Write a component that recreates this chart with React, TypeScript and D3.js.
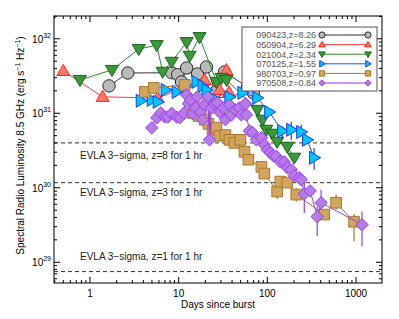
import React from 'react';
import * as d3 from 'd3';

const W = 399;
const H = 319;

// 090423, z=8.26
const days090423 = [1.64, 2.67, 8.34, 9.75, 10.8, 12.3, 16.3, 20.6, 26.0, 32.9, 59.6, 69.6];
const lum090423 = [2.33e31, 3.47e31, 3.5e31, 3.3e31, 2.63e31, 4.05e31, 3.37e31, 4.18e31, 1.93e31, 3.58e31, 2.26e31, 1.88e31];
// 050904, z=6.29
const days050904 = [0.5, 1.39, 5.8, 19.6, 28.9, 34.6, 37.0];
const lum050904 = [3.7e31, 1.66e31, 1.6e31, 2.8e31, 2.05e31, 3.8e31, 1.9e31];
// 021004, z=2.34
const days021004 = [0.77, 1.77, 3.55, 5.66, 6.6, 8.34, 12.3, 13.3, 17.2, 26.7, 30.4, 34.6, 77.2, 87.9, 97.4, 114, 129, 168, 201];
const lum021004 = [2.8e31, 3.81e31, 7.28e31, 8.2e31, 3.6e31, 4.9e31, 9.0e31, 5.9e31, 1.05e32, 2.63e31, 2.98e31, 2.8e31, 1.11e31, 8.17e30, 6.0e30, 5.3e30, 4.14e30, 3.55e30, 2.53e30];
// 070125, z=1.55
const days070125 = [3.74, 4.97, 5.81, 7.14, 9.5, 11.7, 15.9, 18.6, 20.6, 24.1, 37.4, 52.4, 77.2, 105, 147, 186, 241, 281, 337];
const lum070125 = [1.47e31, 1.51e31, 1.42e31, 2.06e31, 1.93e31, 2.25e31, 2.63e31, 2.33e31, 2.06e31, 1.61e31, 1.65e31, 1.88e31, 1.61e31, 1.04e31, 5.8e30, 6.0e30, 5.6e30, 4.4e30, 2.53e30];
// 980703, z=0.97
const days980703 = [4.15, 5.24, 11.7, 14.4, 16.8, 19.6, 21.7, 24.1, 26.7, 28.9, 33.7, 37.4, 42.6, 49.7, 55.2, 61.2, 85.7, 92.5, 129, 140, 168, 212, 437, 596, 950];
const lum980703 = [1.93e31, 2.19e31, 2.4e31, 1.01e31, 9.2e30, 8.2e30, 7.2e30, 6.0e30, 6.4e30, 4.98e30, 5.1e30, 4.4e30, 4.0e30, 4.4e30, 3.04e30, 2.38e30, 1.91e30, 1.55e30, 8.9e29, 1.21e30, 1.17e30, 8.1e29, 4.37e29, 6.3e29, 3.5e29];
// 970508, z=0.84
const days970508 = [4.97, 5.66, 6.28, 6.96, 7.52, 8.34, 9.5, 10.3, 11.4, 12.3, 12.9, 13.6, 14.4, 15.5, 16.3, 17.7, 18.6, 19.6, 21.2, 22.3, 23.5, 25.4, 27.4, 28.9, 32.0, 33.7, 37.4, 39.4, 43.7, 48.4, 51.0, 56.6, 58.1, 62.8, 67.8, 75.2, 85.7, 92.5, 100, 108, 117, 126, 140, 155, 168, 186, 201, 229, 241, 261, 304, 365, 404, 1167];
const lum970508 = [6.38e30, 8.67e30, 1.01e31, 8.95e30, 8.9e30, 1.0e31, 8.9e30, 8.7e30, 1.0e31, 1.76e31, 1.34e31, 1.51e31, 9.8e30, 1.18e31, 1.66e31, 1.04e31, 8.2e30, 1.3e31, 1.66e31, 4.4e30, 1.18e31, 1.34e31, 1.38e31, 1.04e31, 1.18e31, 8.2e30, 1.3e31, 9.5e30, 1.11e31, 1.18e31, 9.5e30, 1.34e31, 9.5e30, 5.8e30, 5.5e30, 4.4e30, 4.7e30, 3.78e30, 3.24e30, 2.95e30, 2.69e30, 2.63e30, 2.23e30, 2.23e30, 1.86e30, 1.75e30, 1.45e30, 1.37e30, 1.28e30, 8.3e29, 9.1e29, 4.1e29, 6.3e29, 3.2e29];

// error bars: [day, low, high]
const err090423 = [[2.67, 2.9e31, 4.1e31], [10.8, 2.2e31, 3.1e31], [20.6, 3.5e31, 4.9e31], [69.6, 1.5e31, 2.3e31]];
const err070125 = [[147, 4.4e30, 6.6e30], [186, 4.4e30, 7.7e30], [241, 4.9e30, 7.0e30], [337, 1.75e30, 3.4e30]];
const err980703 = [[129, 7.0e29, 1.1e30], [212, 6.5e29, 1.0e30], [596, 5.1e29, 8.1e29], [950, 1.9e29, 4.4e29]];
const err970508 = [[22.3, 3.8e30, 1.1e31], [261, 4.6e29, 1.37e30], [365, 2.24e29, 5.6e29], [404, 5.1e29, 9.4e29], [1167, 1.64e29, 4.8e29]];

// sensitivity lines
const evlaLevels = [4.0e30, 1.17e30, 7.5e28];
const evlaLabels = ['EVLA 3\u2212sigma, z=8 for 1 hr', 'EVLA 3\u2212sigma, z=3 for 1 hr', 'EVLA 3\u2212sigma, z=1 for 1 hr'];
const evlaLabelLum = [2.43e30, 7.7e29, 1.07e29];

const xTicks = [1, 10, 100, 1000];
const yTicks = [1e29, 1e30, 1e31, 1e32];

const series = [
  { name: '090423', z: '8.26', days: days090423, lum: lum090423, err: err090423, shape: 'circle', fill: '#b9b9b9', stroke: '#2b2b2b', line: '#333' },
  { name: '050904', z: '6.29', days: days050904, lum: lum050904, err: [], shape: 'up', fill: '#ff7866', stroke: '#ff2626', line: '#ff3a3a' },
  { name: '021004', z: '2.34', days: days021004, lum: lum021004, err: [], shape: 'down', fill: '#3a9a3a', stroke: '#1b661b', line: '#2b8a2b' },
  { name: '070125', z: '1.55', days: days070125, lum: lum070125, err: err070125, shape: 'right', fill: '#00c8ff', stroke: '#1a3cff', line: '#2050ff' },
  { name: '980703', z: '0.97', days: days980703, lum: lum980703, err: err980703, shape: 'square', fill: '#d2a55e', stroke: '#a8782c', line: '#a8782c' },
  { name: '970508', z: '0.84', days: days970508, lum: lum970508, err: err970508, shape: 'diamond', fill: '#b67ce6', stroke: '#9a3cf0', line: '#9a3cf0' },
];

function Marker({ shape, cx, cy, k, fill, stroke }) {
  const s = 6.5 * k;
  const t = `translate(${cx},${cy})`;
  if (shape === 'circle') return <circle cx={cx} cy={cy} r={6.2 * k} fill={fill} stroke={stroke} />;
  let d = '';
  if (shape === 'up') d = `M0,${-s}L${s},${s * 0.7}L${-s},${s * 0.7}Z`;
  if (shape === 'down') d = `M0,${s}L${s},${-s * 0.7}L${-s},${-s * 0.7}Z`;
  if (shape === 'right') d = `M${s},0L${-s * 0.7},${-s}L${-s * 0.7},${s}Z`;
  if (shape === 'square') d = `M${-s * 0.82},${-s * 0.82}H${s * 0.82}V${s * 0.82}H${-s * 0.82}Z`;
  if (shape === 'diamond') d = `M0,${-s * 0.95}L${s * 0.95},0L0,${s * 0.95}L${-s * 0.95},0Z`;
  return <path d={d} transform={t} fill={fill} stroke={stroke} />;
}

export default function App() {
  const x = d3.scaleLog().domain([0.393, 1963]).range([54, 382]);
  const y = d3.scaleLog().domain([5.27e28, 2.02e32]).range([283, 16]);
  const [x0, x1] = x.range();
  const [y1, y0] = y.range();

  const xMinor = [];
  for (let e = -1; e <= 3; e++) for (let m = 2; m <= 9; m++) {
    const v = m * Math.pow(10, e);
    if (v > x.domain()[0] && v < x.domain()[1]) xMinor.push(v);
  }
  const yMinor = [];
  for (let e = 28; e <= 32; e++) for (let m = 2; m <= 9; m++) {
    const v = m * Math.pow(10, e);
    if (v > y.domain()[0] && v < y.domain()[1]) yMinor.push(v);
  }

  const line = d3.line().x(d => x(d[0])).y(d => y(d[1]));
  const font = 'Liberation Sans, Arial, sans-serif';

  return (
    <svg width={W} height={H} style={{ position: 'absolute', left: 0, top: 0, background: '#fff' }} fontFamily={font}>
      {/* sensitivity lines */}
      {evlaLevels.map((v, i) => (
        <g key={'ev' + i}>
          <line x1={x0} x2={x1} y1={y(v)} y2={y(v)} stroke="#333" strokeDasharray="4,3" />
          <text x={80} y={y(evlaLabelLum[i])} fontSize={10} fill="#222">{evlaLabels[i]}</text>
        </g>
      ))}

      {/* data */}
      {series.map(s => {
        const pts = s.days.map((d, i) => [d, s.lum[i]]);
        return (
          <g key={s.name}>
            <path d={line(pts)} fill="none" stroke={s.line} strokeWidth={1} />
            {s.err.map((e, i) => (
              <line key={i} x1={x(e[0])} x2={x(e[0])} y1={y(e[1])} y2={y(e[2])} stroke={s.stroke} strokeWidth={1.2} />
            ))}
            {pts.map((p, i) => (
              <Marker key={i} shape={s.shape} cx={x(p[0])} cy={y(p[1])} k={1} fill={s.fill} stroke={s.stroke} />
            ))}
          </g>
        );
      })}

      {/* frame and ticks */}
      <rect x={x0} y={y0} width={x1 - x0} height={y1 - y0} fill="none" stroke="#000" />
      {xTicks.map(v => (
        <g key={'xt' + v}>
          <line x1={x(v)} x2={x(v)} y1={y1} y2={y1 - 6} stroke="#000" />
          <line x1={x(v)} x2={x(v)} y1={y0} y2={y0 + 6} stroke="#000" />
          <text x={x(v)} y={297} fontSize={10} textAnchor="middle">{v}</text>
        </g>
      ))}
      {xMinor.map(v => (
        <g key={'xm' + v}>
          <line x1={x(v)} x2={x(v)} y1={y1} y2={y1 - 3} stroke="#000" />
          <line x1={x(v)} x2={x(v)} y1={y0} y2={y0 + 3} stroke="#000" />
        </g>
      ))}
      {yTicks.map(v => (
        <g key={'yt' + v}>
          <line x1={x0} x2={x0 + 6} y1={y(v)} y2={y(v)} stroke="#000" />
          <line x1={x1} x2={x1 - 6} y1={y(v)} y2={y(v)} stroke="#000" />
          <text x={51} y={y(v) + 4} fontSize={10} textAnchor="end">
            10<tspan fontSize={7} dy={-5}>{Math.round(Math.log10(v))}</tspan>
          </text>
        </g>
      ))}
      {yMinor.map(v => (
        <g key={'ym' + v}>
          <line x1={x0} x2={x0 + 3} y1={y(v)} y2={y(v)} stroke="#000" />
          <line x1={x1} x2={x1 - 3} y1={y(v)} y2={y(v)} stroke="#000" />
        </g>
      ))}

      {/* axis titles */}
      <text x={(x0 + x1) / 2} y={308} fontSize={10} textAnchor="middle">Days since burst</text>
      <text transform={`translate(24,${(y0 + y1) / 2 - 4}) rotate(-90)`} fontSize={10} textAnchor="middle">
        Spectral Radio Luminosity 8.5 GHz (erg s<tspan fontSize={7} dy={-4}>−1</tspan>
        <tspan dy={4}> Hz</tspan><tspan fontSize={7} dy={-4}>−1</tspan><tspan dy={4}>)</tspan>
      </text>

      {/* legend */}
      <rect x={242} y={27} width={135} height={64} fill="#fff" stroke="#555" />
      {series.map((s, i) => {
        const ly = 35 + i * 9.6;
        return (
          <g key={'lg' + s.name}>
            <text x={316} y={ly + 3.3} fontSize={9} textAnchor="end" fill="#555">{`${s.name},z=${s.z}`}</text>
            <line x1={322} x2={368} y1={ly} y2={ly} stroke={s.line} />
            <Marker shape={s.shape} cx={322} cy={ly} k={0.5} fill={s.fill} stroke={s.stroke} />
            <Marker shape={s.shape} cx={368} cy={ly} k={0.5} fill={s.fill} stroke={s.stroke} />
          </g>
        );
      })}
    </svg>
  );
}
